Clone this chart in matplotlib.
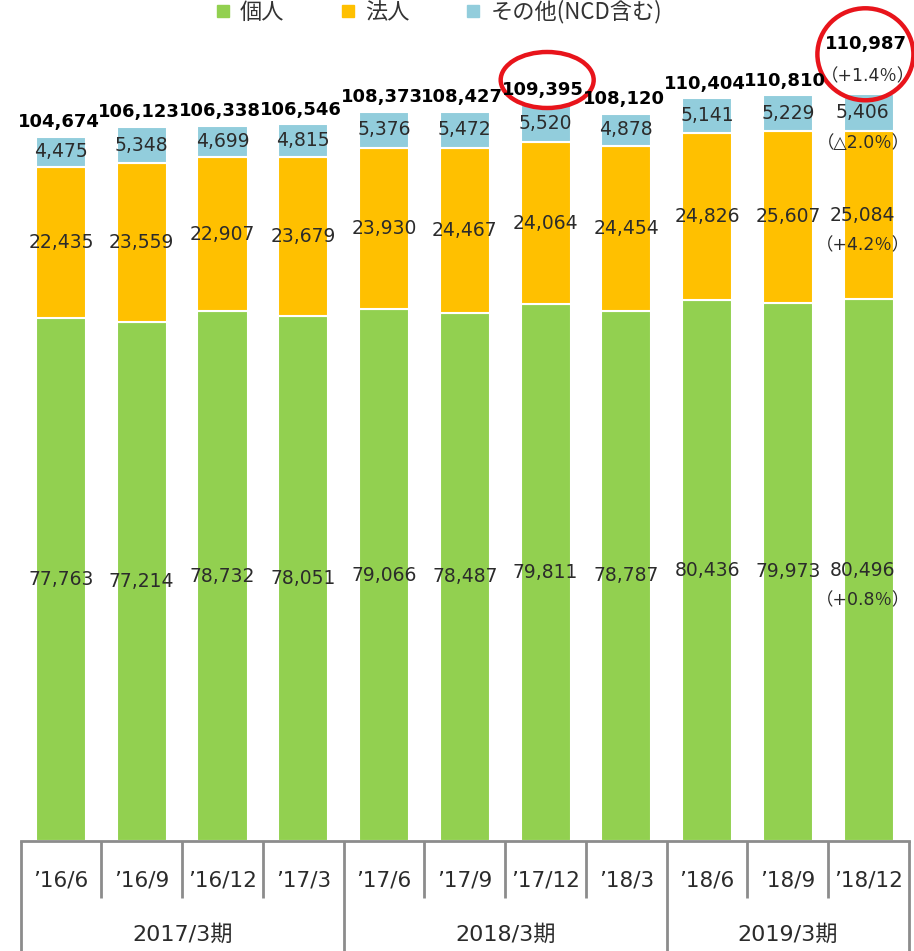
import matplotlib
matplotlib.use("Agg")
import matplotlib.pyplot as plt
from matplotlib.lines import Line2D
from matplotlib.patches import Ellipse
import matplotlib.transforms as mtrans
import numpy as np

plt.rcParams['font.family'] = ['DejaVu Sans', 'Noto Sans CJK JP']

periods = ["’16/6", "’16/9", "’16/12", "’17/3", "’17/6", "’17/9", "’17/12",
           "’18/3", "’18/6", "’18/9", "’18/12"]
fiscal_groups = ["2017/3期", "2018/3期", "2019/3期"]
group_sizes = [4, 4, 3]
individual = [77763, 77214, 78732, 78051, 79066, 78487, 79811, 78787, 80436, 79973, 80496]
corporate = [22435, 23559, 22907, 23679, 23930, 24467, 24064, 24454, 24826, 25607, 25084]
other = [4475, 5348, 4699, 4815, 5376, 5472, 5520, 4878, 5141, 5229, 5406]
totals = [104674, 106123, 106338, 106546, 108373, 108427, 109395, 108120, 110404, 110810, 110987]
last_pct_individual = "（+0.8％）"
last_pct_corporate = "（+4.2％）"
last_pct_other = "（△2.0％）"
last_pct_total = "（+1.4％）"
series_names = ["個人", "法人", "その他(NCD含む)"]
colors = ["#92D050", "#FFC000", "#92CDDC"]

CJK = ['Noto Sans CJK JP', 'DejaVu Sans']

W, H = 914, 951
fig = plt.figure(figsize=(W / 100, H / 100), dpi=100)
ax_left, ax_right = 20.6, 909
ax_bottom_px = 841
ax = fig.add_axes([ax_left / W, (H - ax_bottom_px) / H, (ax_right - ax_left) / W, ax_bottom_px / H])

x = np.arange(len(periods))
bw = 0.62
ind = np.array(individual)
cor = np.array(corporate)
oth = np.array(other)
ax.bar(x, ind, bw, color=colors[0], edgecolor="white", linewidth=1.5)
ax.bar(x, cor, bw, bottom=ind, color=colors[1], edgecolor="white", linewidth=1.5)
ax.bar(x, oth, bw, bottom=ind + cor, color=colors[2], edgecolor="white", linewidth=1.5)

ax.set_xlim(-0.5, len(periods) - 0.5)
ax.set_ylim(0, 125000)
for s in ["top", "left", "right"]:
    ax.spines[s].set_visible(False)
ax.spines["bottom"].set_color("#8c8c8c")
ax.spines["bottom"].set_linewidth(2)
ax.set_xticks([])
ax.set_yticks([])

seg_fs = 13.5
tcol = "#2b2b2b"
n = len(periods)
for i in range(n):
    last = (i == n - 1)
    dx = -0.08 if last else 0
    ax.text(x[i] + dx, ind[i] / 2, f"{ind[i]:,}", ha="center", va="center", fontsize=seg_fs, color=tcol)
    ax.text(x[i] + dx, ind[i] + cor[i] / 2, f"{cor[i]:,}", ha="center", va="center", fontsize=seg_fs, color=tcol)
    ax.text(x[i] + dx, ind[i] + cor[i] + oth[i] / 2, f"{oth[i]:,}", ha="center", va="center", fontsize=seg_fs, color=tcol)
    if not last:
        ax.annotate(f"{totals[i]:,}", (x[i] - 0.03, totals[i]), xytext=(0, 4), textcoords="offset points",
                    ha="center", va="bottom", fontsize=13, fontweight="bold", color="black")

# extra annotations for last bar
i = n - 1
off = -22
pct_kw = dict(textcoords="offset points", ha="center", va="center", fontsize=12.5, color=tcol)
ax.annotate(last_pct_individual, (x[i] - 0.07, ind[i] / 2), xytext=(0, off), **pct_kw)
ax.annotate(last_pct_corporate, (x[i] - 0.07, ind[i] + cor[i] / 2), xytext=(0, off), **pct_kw)
ax.annotate(last_pct_other, (x[i] - 0.07, ind[i] + cor[i] + oth[i] / 2), xytext=(0, off), **pct_kw)
ax.annotate(last_pct_total, (x[i] - 0.01, totals[i]), xytext=(0, 13), **pct_kw)
ax.annotate(f"{totals[i]:,}", (x[i] - 0.03, totals[i]), xytext=(0, 36), textcoords="offset points",
            ha="center", va="center", fontsize=13, fontweight="bold", color="black")

# red ellipses
pxy = 125000 / ax_bottom_px
pxx = (len(periods)) / (ax_right - ax_left)
ax.add_patch(Ellipse((x[6] + 0.02, totals[6] + 25 * pxy), 93 * pxx, 56 * pxy, fill=False,
                     edgecolor="#E8141B", linewidth=3.2, clip_on=False))
ax.add_patch(Ellipse((x[10] - 0.04, totals[10] + 40 * pxy), 96 * pxx, 92 * pxy, fill=False,
                     edgecolor="#E8141B", linewidth=3.2, clip_on=False))

# two-level category axis
trans = mtrans.blended_transform_factory(ax.transData, ax.transAxes)
tick_bot = -(898 - ax_bottom_px) / ax_bottom_px
grp_bot = -(H - ax_bottom_px + 5) / ax_bottom_px
lab_y = -(881 - ax_bottom_px) / ax_bottom_px
grp_y = -(935 - ax_bottom_px) / ax_bottom_px
gray = "#8c8c8c"
bounds = [0]
for g in group_sizes:
    bounds.append(bounds[-1] + g)
for k in range(n + 1):
    xb = k - 0.5
    is_group = k in bounds
    ax.plot([xb, xb], [0, grp_bot if is_group else tick_bot], transform=trans, color=gray,
            linewidth=2, clip_on=False, solid_capstyle="butt")
for i in range(n):
    ax.text(x[i], lab_y, periods[i], transform=trans, ha="center", va="center", fontsize=15.5, color=tcol)
for gi, g in enumerate(fiscal_groups):
    c = (bounds[gi] + bounds[gi + 1] - 1) / 2
    ax.text(c, grp_y, g, transform=trans, ha="center", va="center", fontsize=16, color=tcol)

handles = [Line2D([], [], marker="s", linestyle="none", markersize=8, color=c) for c in colors]
fig.legend(handles, series_names, loc="center left", bbox_to_anchor=(203 / W, 1 - 12 / H),
           ncol=3, frameon=False, handlelength=0.8, handletextpad=0.37, columnspacing=2.46,
           borderpad=0, labelcolor="#333333", prop={'family': CJK, 'size': 16})

fig.savefig("out.png", dpi=100)
